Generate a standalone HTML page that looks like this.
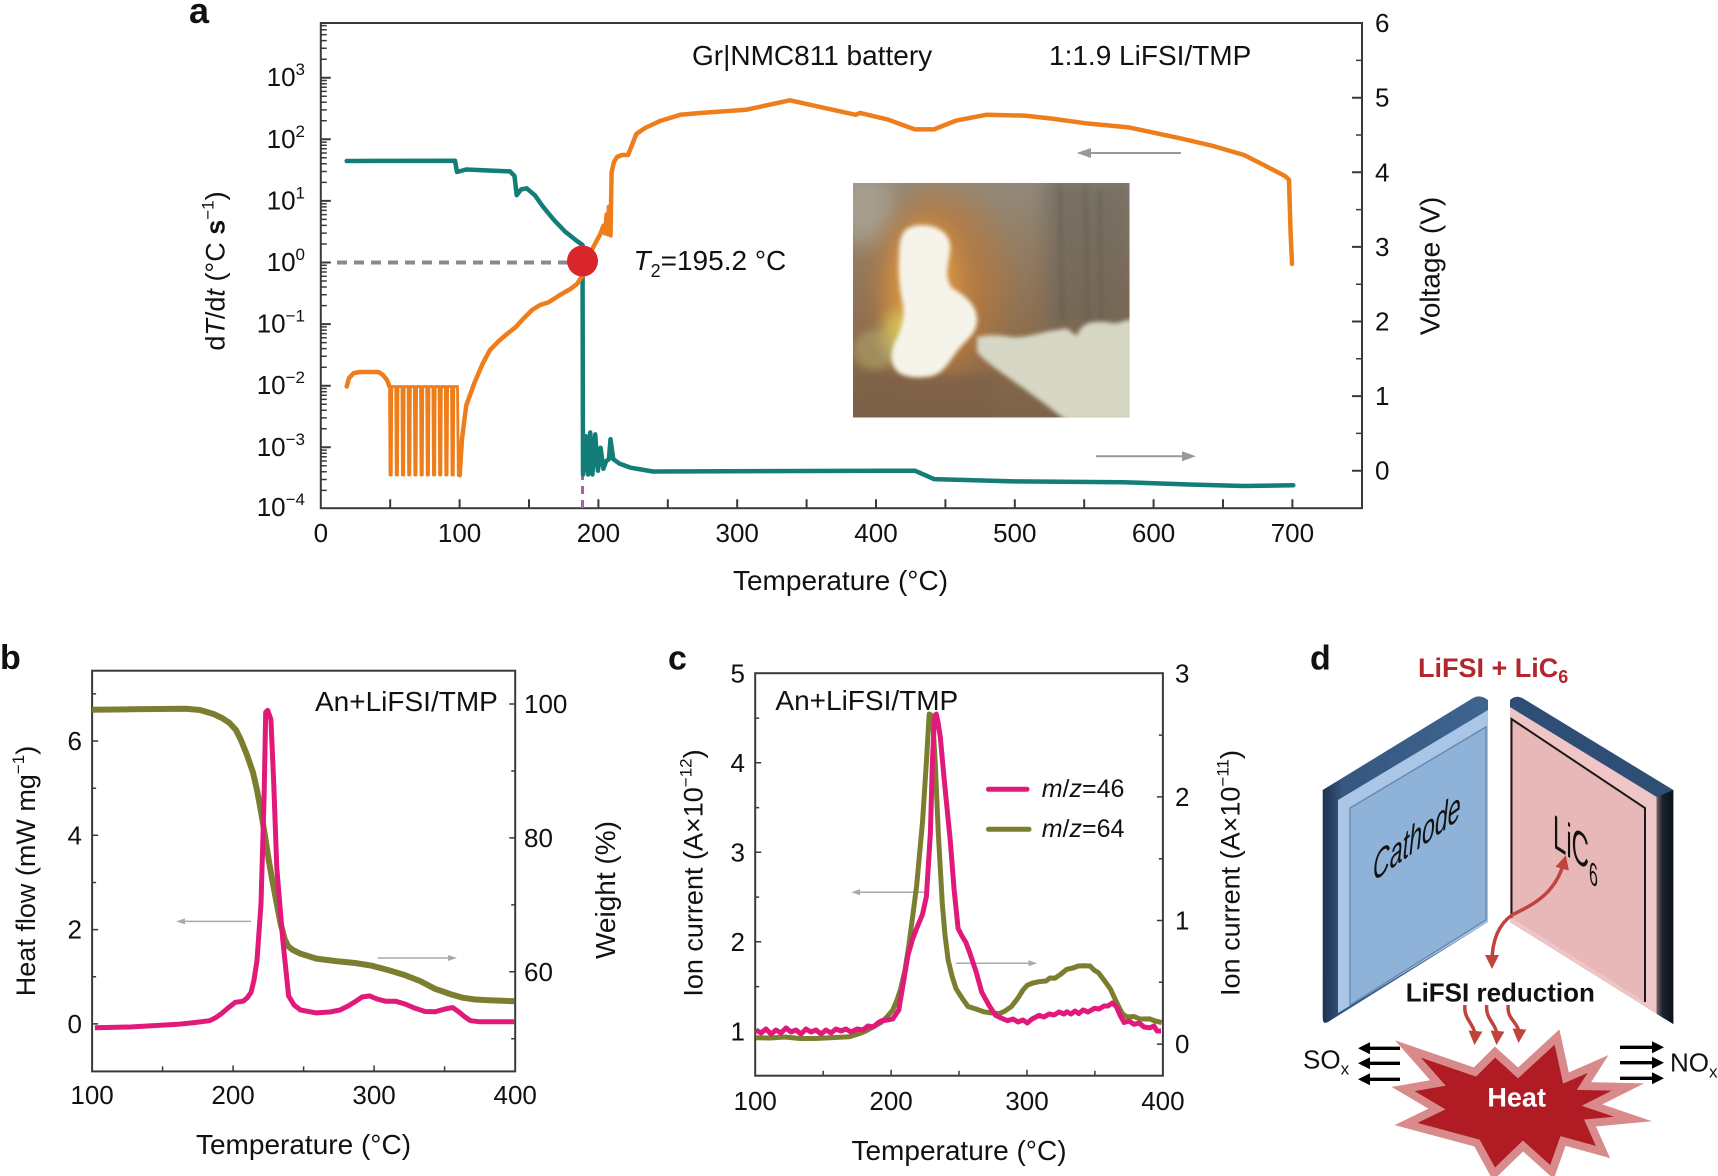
<!DOCTYPE html>
<html><head><meta charset="utf-8">
<style>
html,body{margin:0;padding:0;background:#fff}
svg{display:block}
text{font-family:"Liberation Sans",Arial,sans-serif;fill:#111}
</style></head>
<body>
<svg width="1718" height="1176" viewBox="0 0 1718 1176" xmlns="http://www.w3.org/2000/svg">
<defs>
<filter id="b2" x="-50%" y="-50%" width="200%" height="200%"><feGaussianBlur stdDeviation="2"/></filter>
<filter id="b4" x="-50%" y="-50%" width="200%" height="200%"><feGaussianBlur stdDeviation="4"/></filter>
<filter id="b7" x="-50%" y="-50%" width="200%" height="200%"><feGaussianBlur stdDeviation="7"/></filter>
<filter id="b10" x="-50%" y="-50%" width="200%" height="200%"><feGaussianBlur stdDeviation="10"/></filter>
<filter id="b16" x="-50%" y="-50%" width="200%" height="200%"><feGaussianBlur stdDeviation="16"/></filter>
<linearGradient id="phbg" x1="0" y1="0" x2="0" y2="1">
<stop offset="0" stop-color="#938a7b"/><stop offset="0.35" stop-color="#927a60"/><stop offset="0.7" stop-color="#8b6b4b"/><stop offset="1" stop-color="#7c6249"/>
</linearGradient>
<linearGradient id="navyL" x1="0" y1="0" x2="1" y2="0">
<stop offset="0" stop-color="#1d3250"/><stop offset="0.12" stop-color="#36577f"/><stop offset="1" stop-color="#3e6591"/>
</linearGradient>
<linearGradient id="darkR" x1="0" y1="0" x2="1" y2="0">
<stop offset="0" stop-color="#7a6064"/><stop offset="0.35" stop-color="#1a2230"/><stop offset="1" stop-color="#0a111b"/>
</linearGradient>
<clipPath id="ph"><rect x="853" y="183" width="276.5" height="234.5"/></clipPath>
<marker id="mr" viewBox="0 0 10 10" refX="5" refY="5" markerWidth="4" markerHeight="4" orient="auto-start-reverse"><path d="M0,0 L10,5 L0,10 Z" fill="#c0443c"/></marker>
</defs>

<!-- ================= PANEL A ================= -->
<text x="189" y="23" font-size="36" font-weight="bold">a</text>

<!-- inset photo -->
<g clip-path="url(#ph)">
<rect x="853" y="183" width="276.5" height="234.5" fill="url(#phbg)"/>
<rect x="1045" y="175" width="95" height="160" fill="#676259" opacity="0.6" filter="url(#b10)"/>
<path d="M1060,185 L1062,320 M1085,185 L1088,320 M1100,190 L1101,320" stroke="#5a564f" stroke-width="3" opacity="0.5" filter="url(#b2)"/>
<ellipse cx="865" cy="210" rx="30" ry="35" fill="#aba597" opacity="0.8" filter="url(#b10)"/>
<ellipse cx="940" cy="285" rx="62" ry="95" fill="#b97a3c" opacity="0.75" filter="url(#b16)"/>
<ellipse cx="925" cy="290" rx="38" ry="70" fill="#e09a40" opacity="0.75" filter="url(#b10)"/>
<ellipse cx="900" cy="335" rx="18" ry="25" fill="#d8d060" opacity="0.7" filter="url(#b7)"/>
<ellipse cx="875" cy="350" rx="22" ry="20" fill="#b7ad70" opacity="0.5" filter="url(#b4)"/>
<rect x="853" y="375" width="140" height="45" fill="#7d6146" opacity="0.7" filter="url(#b4)"/>
<path d="M902,236 C905,226 918,224 930,226 C944,229 952,238 950,252 C948,266 944,276 952,288 C966,296 978,306 977,322 C976,334 966,340 958,350 C950,360 945,372 932,376 C916,379 902,377 896,370 C889,360 891,350 896,340 C901,330 905,318 903,305 C900,292 898,275 899,258 C899,248 900,240 902,236 Z" fill="#f6f4ea" filter="url(#b2)"/>
<path d="M977,337 C990,334 1000,335 1012,337 C1025,338 1040,333 1050,331 C1058,330 1064,328 1068,329 C1072,332 1075,337 1078,334 C1080,326 1088,322 1097,322 C1106,321 1112,324 1118,323 C1124,321 1128,320 1132,319 L1132,420 L1066,420 C1055,412 1040,400 1023,388 C1005,375 985,362 977,352 Z" fill="#d6d7c4" filter="url(#b2)"/>
</g>

<!-- axes frame -->
<rect x="320.8" y="23" width="1041.2" height="485.2" fill="none" stroke="#3a3a3a" stroke-width="2"/>
<path d="M390.2,508.2v-9M459.6,508.2v-9M529,508.2v-9M598.4,508.2v-9M667.8,508.2v-9M737.2,508.2v-9M806.6,508.2v-9M876,508.2v-9M945.4,508.2v-9M1014.8,508.2v-9M1084.2,508.2v-9M1153.6,508.2v-9M1223,508.2v-9M1292.4,508.2v-9" stroke="#3a3a3a" stroke-width="2"/>
<path d="M320.8,447.3h10M320.8,385.7h10M320.8,324.1h10M320.8,262.5h10M320.8,200.9h10M320.8,139.3h10M320.8,77.7h10" stroke="#3a3a3a" stroke-width="2"/>
<path d="M320.8,490.4h6M320.8,479.5h6M320.8,471.8h6M320.8,465.8h6M320.8,461h6M320.8,456.8h6M320.8,453.3h6M320.8,450.1h6
M320.8,428.8h6M320.8,417.9h6M320.8,410.2h6M320.8,404.2h6M320.8,399.4h6M320.8,395.2h6M320.8,391.7h6M320.8,388.5h6
M320.8,367.2h6M320.8,356.3h6M320.8,348.6h6M320.8,342.6h6M320.8,337.8h6M320.8,333.6h6M320.8,330.1h6M320.8,326.9h6
M320.8,305.6h6M320.8,294.7h6M320.8,287h6M320.8,281h6M320.8,276.2h6M320.8,272h6M320.8,268.5h6M320.8,265.3h6
M320.8,244h6M320.8,233.1h6M320.8,225.4h6M320.8,219.4h6M320.8,214.6h6M320.8,210.4h6M320.8,206.9h6M320.8,203.7h6
M320.8,182.4h6M320.8,171.5h6M320.8,163.8h6M320.8,157.8h6M320.8,153h6M320.8,148.8h6M320.8,145.3h6M320.8,142.1h6
M320.8,120.8h6M320.8,109.9h6M320.8,102.2h6M320.8,96.2h6M320.8,91.4h6M320.8,87.2h6M320.8,83.7h6M320.8,80.5h6
M320.8,59.2h6M320.8,48.3h6M320.8,40.6h6M320.8,34.6h6M320.8,29.8h6M320.8,25.6h6" stroke="#3a3a3a" stroke-width="1.5"/>
<path d="M1362,470.7h-10M1362,396.1h-10M1362,321.5h-10M1362,246.9h-10M1362,172.3h-10M1362,97.7h-10" stroke="#3a3a3a" stroke-width="2"/>
<path d="M1362,433.4h-6M1362,358.8h-6M1362,284.2h-6M1362,209.6h-6M1362,135h-6M1362,60.4h-6" stroke="#3a3a3a" stroke-width="1.5"/>

<g font-size="26" text-anchor="middle">
<text x="320.8" y="542">0</text><text x="459.6" y="542">100</text><text x="598.4" y="542">200</text><text x="737.2" y="542">300</text><text x="876" y="542">400</text><text x="1014.8" y="542">500</text><text x="1153.6" y="542">600</text><text x="1292.4" y="542">700</text>
</g>
<g font-size="26" text-anchor="end">
<text x="305" y="86.2">10<tspan dy="-11" font-size="17">3</tspan></text>
<text x="305" y="147.8">10<tspan dy="-11" font-size="17">2</tspan></text>
<text x="305" y="209.4">10<tspan dy="-11" font-size="17">1</tspan></text>
<text x="305" y="271">10<tspan dy="-11" font-size="17">0</tspan></text>
<text x="305" y="332.6">10<tspan dy="-11" font-size="17">−1</tspan></text>
<text x="305" y="394.2">10<tspan dy="-11" font-size="17">−2</tspan></text>
<text x="305" y="455.8">10<tspan dy="-11" font-size="17">−3</tspan></text>
<text x="305" y="516">10<tspan dy="-11" font-size="17">−4</tspan></text>
</g>
<g font-size="26">
<text x="1375" y="32">6</text><text x="1375" y="106.7">5</text><text x="1375" y="181.3">4</text><text x="1375" y="255.9">3</text><text x="1375" y="330.5">2</text><text x="1375" y="405.1">1</text><text x="1375" y="479.7">0</text>
</g>
<text x="840.5" y="590" font-size="28" text-anchor="middle">Temperature (°C)</text>
<text transform="translate(224.5,271) rotate(-90)" font-size="27" text-anchor="middle">d<tspan font-style="italic">T</tspan>/d<tspan font-style="italic">t</tspan> (°C <tspan font-weight="bold">s</tspan><tspan dy="-11" font-size="17">−1</tspan><tspan dy="11">)</tspan></text>
<text transform="translate(1439.5,266) rotate(-90)" font-size="28" text-anchor="middle">Voltage (V)</text>
<text x="692" y="65" font-size="28">Gr|NMC811 battery</text>
<text x="1049" y="65" font-size="28">1:1.9 LiFSI/TMP</text>
<text x="633.5" y="270" font-size="28"><tspan font-style="italic">T</tspan><tspan dy="7" font-size="18">2</tspan><tspan dy="-7">=195.2 °C</tspan></text>

<line x1="1180.9" y1="153" x2="1088" y2="153" stroke="#999" stroke-width="2"/>
<polygon points="1076.7,153 1091,148 1091,158" fill="#999"/>
<line x1="1095.9" y1="456.2" x2="1184" y2="456.2" stroke="#999" stroke-width="2"/>
<polygon points="1196,456.2 1182,451.2 1182,461.2" fill="#999"/>

<line x1="337" y1="262.5" x2="568" y2="262.5" stroke="#8a8a8a" stroke-width="4" stroke-dasharray="10,7"/>
<line x1="582.5" y1="276" x2="582.5" y2="508" stroke="#b558b0" stroke-width="3" stroke-dasharray="8,6"/>

<path d="M346.7,161 L455,160.7 L457,172 L466.2,169.5 L510.1,171.4 L514.5,176 L516.7,195.2 L521.1,189.4 L526.6,188.3 L534.8,195.2 L543,206.7 L554,220 L565,231.5 L576,240.3 L582.5,245 L583,474.5 L585.8,436.3 L588,474.5 L590.2,432.5 L592.4,474.5 L595.2,434.4 L597.9,470.7 L600.6,447.8 L603.4,468.8 L606.1,461.2 L608.9,459.2 L610.5,439.3 L613.3,459.2 L619.8,463.8 L630.8,467.7 L652.8,471.5 L914.9,470.7 L934,479.1 L1013.6,481.4 L1123.3,482.2 L1189,484.5 L1244,486 L1293.3,485.3" fill="none" stroke="#137d77" stroke-width="4.5" stroke-linejoin="round" stroke-linecap="round"/>

<path d="M389.5,386.5 L390,475 L391.3,475 L391.8,386.5 L395.7,386.5 L396.2,475 L397.5,475 L398,386.5 L401.9,386.5 L402.4,475 L403.7,475 L404.2,386.5 L408.1,386.5 L408.6,475 L409.9,475 L410.4,386.5 L414.3,386.5 L414.8,475 L416.1,475 L416.6,386.5 L420.5,386.5 L421,475 L422.3,475 L422.8,386.5 L426.7,386.5 L427.2,475 L428.5,475 L429,386.5 L432.9,386.5 L433.4,475 L434.7,475 L435.2,386.5 L439.1,386.5 L439.6,475 L440.9,475 L441.4,386.5 L445.3,386.5 L445.8,475 L447.1,475 L447.6,386.5 L451.5,386.5 L452,475 L453.3,475 L453.8,386.5 L457.5,386.5 L458.3,475.3 L459.7,475.3" fill="none" stroke="#ee7d1c" stroke-width="2.8" stroke-linejoin="round"/>
<path d="M346.7,386.5 L349,378 L353.8,373.1 L360,372 L378.5,372 L383,375 L387,380 L389.5,386.5 M459.7,475.3 L461.9,440 L466.2,405.7 L474.5,382.7 L482.7,363.6 L490,350 L499.2,340.6 L507,334 L515.6,327.2 L524,318 L532.1,310 L540,305 L548.5,302.3 L560,295 L570.5,288.9 L577,284 L582.5,275.5 L587,263 L592.4,248.8 L600.6,233.4 L603.4,225.8 L605,233.4 L606.7,214.3 L607.8,234.2 L608.9,206.7 L610.5,235.4 L611.6,172.2 L614,162 L617.1,156.9 L622,155 L628,155 L632,145 L636.3,134 L645,128 L660,121 L680.2,114.8 L700,113 L746,109.8 L789.9,100.3 L855.7,114.8 L860,112.9 L887.4,119.4 L914.8,129.4 L934,129.4 L956,120.6 L986.2,114.8 L1024.6,115.6 L1052,118.6 L1085,123.2 L1128.8,127.4 L1178,137.8 L1211,145.4 L1244,155 L1263,164.6 L1285,176 L1289,179.9 L1290.5,230 L1292,264" fill="none" stroke="#ee7d1c" stroke-width="4.5" stroke-linejoin="round" stroke-linecap="round"/>

<circle cx="582.5" cy="261" r="15.5" fill="#d9262a"/>

<!-- ================= PANEL B ================= -->
<text x="0" y="669" font-size="34" font-weight="bold">b</text>
<rect x="92.1" y="670.7" width="423.1" height="400.7" fill="none" stroke="#3a3a3a" stroke-width="2"/>
<path d="M162.6,1071.4v-5M233.1,1071.4v-6M303.6,1071.4v-5M374.1,1071.4v-6M444.6,1071.4v-5
M92.1,693.9h4M92.1,741h6M92.1,788.2h4M92.1,835.3h6M92.1,882.5h4M92.1,929.6h6M92.1,976.8h4M92.1,1023.9h6
M515.2,704h-6M515.2,771h-4M515.2,837.9h-6M515.2,904.9h-4M515.2,971.8h-6M515.2,1038.8h-4" stroke="#3a3a3a" stroke-width="1.5"/>
<g font-size="26" text-anchor="middle">
<text x="92.1" y="1104">100</text><text x="233.1" y="1104">200</text><text x="374.1" y="1104">300</text><text x="515.2" y="1104">400</text>
</g>
<g font-size="26" text-anchor="end">
<text x="82" y="750">6</text><text x="82" y="844.3">4</text><text x="82" y="938.6">2</text><text x="82" y="1032.9">0</text>
</g>
<g font-size="26">
<text x="524" y="713">100</text><text x="524" y="846.9">80</text><text x="524" y="980.8">60</text>
</g>
<text x="303.5" y="1154" font-size="28" text-anchor="middle">Temperature (°C)</text>
<text transform="translate(35,871) rotate(-90)" font-size="27" text-anchor="middle">Heat flow (mW mg<tspan dy="-11" font-size="17">−1</tspan><tspan dy="11">)</tspan></text>
<text transform="translate(615,890) rotate(-90)" font-size="28" text-anchor="middle">Weight (%)</text>
<text x="315" y="711" font-size="28">An+LiFSI/TMP</text>
<line x1="251" y1="921.4" x2="183" y2="921.4" stroke="#aaa" stroke-width="1.5"/>
<polygon points="176,921.4 185,918.4 185,924.4" fill="#aaa"/>
<line x1="377.6" y1="958" x2="450" y2="958" stroke="#aaa" stroke-width="1.5"/>
<polygon points="457,958 448,955 448,961" fill="#aaa"/>

<path d="M92.1,709.7 L130,709.3 L185.8,708.7 L200,710 L213.5,714 L222,718 L229.3,722.8 L236,730 L241.2,740.6 L247,755 L253,772.5 L257,790 L261,811.5 L265,836 L268.9,861.1 L273,884 L276.8,903.7 L280.5,923 L284.7,939.1 L288,946 L292.6,949.8 L300,953.5 L316.3,958.6 L336.1,961.1 L355,963 L371.7,965.7 L388,970 L403.3,974.6 L420,981 L435,988.8 L450,994 L462.6,997.7 L475,999.5 L486.4,1000.1 L514.2,1001.2" fill="none" stroke="#7b7e2f" stroke-width="6" stroke-linejoin="round"/>
<path d="M94.9,1027.8 L130,1027 L178,1024.3 L195,1022.5 L209.6,1020.7 L216,1017.5 L221.4,1013.6 L228,1008 L235.3,1002.3 L243.2,1001.2 L247,998 L251.1,992.3 L254,980 L257,960.4 L261,903.7 L264.1,797.3 L265.7,712.2 L267.7,710.4 L270.9,719.3 L273.6,779.6 L276.8,868.2 L282.7,939.1 L288.6,995.9 L294,1005 L300.5,1010 L316.3,1012.9 L330,1012 L340,1010 L348,1006 L355.9,1001.2 L362,997 L369.7,995.9 L377,999 L385.5,1001.2 L395.4,1001.2 L405,1004 L415.2,1008.3 L425,1011.5 L435,1011.8 L445,1009 L452.7,1007.6 L458.7,1011.8 L465,1017 L470.5,1020.7 L480,1021.8 L514.2,1021.8" fill="none" stroke="#e0197a" stroke-width="5" stroke-linejoin="round"/>

<!-- ================= PANEL C ================= -->
<text x="668" y="669.6" font-size="34" font-weight="bold">c</text>
<rect x="755.2" y="673.2" width="407.7" height="402.5" fill="none" stroke="#3a3a3a" stroke-width="2"/>
<path d="M823.2,1075.7v-5M891.1,1075.7v-6M959,1075.7v-5M1027,1075.7v-6M1094.9,1075.7v-5
M755.2,1031.3h6M755.2,986.6h4M755.2,941.8h6M755.2,897.1h4M755.2,852.3h6M755.2,807.6h4M755.2,762.8h6M755.2,718.1h4
M1162.9,1044.1h-6M1162.9,982.3h-4M1162.9,920.5h-6M1162.9,858.7h-4M1162.9,796.9h-6M1162.9,735.1h-4" stroke="#3a3a3a" stroke-width="1.5"/>
<g font-size="26" text-anchor="middle">
<text x="755.2" y="1110">100</text><text x="891.1" y="1110">200</text><text x="1027" y="1110">300</text><text x="1162.9" y="1110">400</text>
</g>
<g font-size="26" text-anchor="end">
<text x="745" y="1040.3">1</text><text x="745" y="950.8">2</text><text x="745" y="861.3">3</text><text x="745" y="771.8">4</text><text x="745" y="682.3">5</text>
</g>
<g font-size="26">
<text x="1175" y="1053.1">0</text><text x="1175" y="929.5">1</text><text x="1175" y="805.9">2</text><text x="1175" y="682.3">3</text>
</g>
<text x="959" y="1160" font-size="28" text-anchor="middle">Temperature (°C)</text>
<text transform="translate(702.5,873) rotate(-90)" font-size="27" text-anchor="middle">Ion current (A×10<tspan dy="-11" font-size="17">−12</tspan><tspan dy="11">)</tspan></text>
<text transform="translate(1239.5,873) rotate(-90)" font-size="27" text-anchor="middle">Ion current (A×10<tspan dy="-11" font-size="17">−11</tspan><tspan dy="11">)</tspan></text>
<text x="775.4" y="710" font-size="28">An+LiFSI/TMP</text>
<line x1="988.5" y1="789.3" x2="1027" y2="789.3" stroke="#e0197a" stroke-width="5" stroke-linecap="round"/>
<line x1="988.5" y1="829.3" x2="1029" y2="829.3" stroke="#7b7e2f" stroke-width="5" stroke-linecap="round"/>
<text x="1041.7" y="797" font-size="25"><tspan font-style="italic">m</tspan>/<tspan font-style="italic">z</tspan>=46</text>
<text x="1041.7" y="837" font-size="25"><tspan font-style="italic">m</tspan>/<tspan font-style="italic">z</tspan>=64</text>
<line x1="924.5" y1="892.3" x2="858" y2="892.3" stroke="#aaa" stroke-width="1.5"/>
<polygon points="851.3,892.3 860,889.3 860,895.3" fill="#aaa"/>
<line x1="956" y1="963.3" x2="1030" y2="963.3" stroke="#aaa" stroke-width="1.5"/>
<polygon points="1037.2,963.3 1028.5,960.3 1028.5,966.3" fill="#aaa"/>

<path d="M756,1037.7 L770,1038 L785,1037 L800,1038.5 L817.7,1038.4 L835,1037.5 L849.3,1036.7 L858,1034 L865.2,1031.3 L873,1027 L881,1022.5 L887,1017 L892.8,1010 L897,1000 L900.7,988.8 L905,970 L908.7,946.2 L912.6,917 L916.6,886 L919.5,855 L922.5,822.1 L926.4,761.8 L929.2,714 L932.4,715.7 L935.2,761.8 L938.3,832.8 L942.3,903.7 L945,935 L948.2,960.4 L952,976 L956.1,988.8 L962,998 L968,1006.5 L976,1009 L983.8,1011.8 L992,1013 L999.6,1013.6 L1005,1011 L1011.5,1006.5 L1018,998 L1023,990 L1027.3,985.2 L1033,983 L1039.1,981.7 L1046,981 L1050,978 L1055,978.2 L1061,974 L1066.8,969.3 L1073,968 L1078,966 L1084.6,965.7 L1090,966 L1094,970 L1098.5,972.8 L1104,980 L1110.3,988.8 L1116,1001 L1122.2,1013.6 L1127,1017 L1134,1016.5 L1140,1019 L1149.8,1018.9 L1155,1021 L1161.7,1022.5" fill="none" stroke="#7b7e2f" stroke-width="5" stroke-linejoin="round"/>
<path d="M756,1030 L761,1033 L766,1029 L771,1034 L776,1030 L781,1033 L786,1028 L791,1032 L796,1030 L801,1034 L806,1029 L811,1032 L816,1030 L821,1034 L826,1030 L831,1033 L836,1029 L841,1031 L846,1029 L851,1032 L857,1029 L863,1030 L868,1026 L873,1027 L878,1023 L881,1021 L887,1020 L892.8,1018.9 L898.8,1010 L904.7,974.6 L908,955 L912.6,939.1 L916.6,928.5 L922.5,914.3 L926.4,896.6 L930.4,832.8 L932.4,761.8 L934.4,719.3 L936.3,714 L938,722 L940.3,737 L944.2,779.6 L950.2,839.9 L954.1,889.5 L958.1,928.5 L962,936 L966,942.7 L969.9,953.3 L975.9,971.1 L981.8,992.3 L989.7,1006.5 L995.6,1015.4 L1001,1018 L1007.5,1020.7 L1013,1019 L1018,1022 L1023,1020 L1027.3,1023 L1032,1019 L1036,1017 L1039.1,1015.4 L1044,1017 L1049,1014 L1054,1015 L1059,1012 L1064,1014 L1066.8,1011.8 L1071,1014 L1075,1011 L1078.7,1013.6 L1083,1010 L1088,1012 L1094.5,1008.3 L1099,1009 L1104,1006 L1108,1006 L1112.3,1003 L1116.3,1006.5 L1120,1015 L1124.1,1022.5 L1129,1021 L1134,1024.3 L1139,1023 L1144,1027 L1149.8,1027.8 L1154,1026 L1157,1031 L1161,1031" fill="none" stroke="#e0197a" stroke-width="5" stroke-linejoin="round"/>

<!-- ================= PANEL D ================= -->
<text x="1310" y="669.6" font-size="34" font-weight="bold">d</text>
<text x="1418" y="677" font-size="27" font-weight="bold" style="fill:#b3262c">LiFSI + LiC<tspan dy="6" font-size="18" style="fill:#b3262c">6</tspan></text>

<path d="M1322.7,790 L1473,698 Q1480,694 1488,700 L1488,922 L1328,1022 Q1322.7,1025 1322.7,1018 Z" fill="url(#navyL)"/>
<path d="M1338,800 L1488,710 L1488,922 L1338,1013 Z" fill="#a9c6e6"/>
<path d="M1350,808 L1486,727 L1486,920 L1350,1005 Z" fill="#8fb2d9" stroke="#6a8ab2" stroke-width="1.5"/>
<text transform="translate(1373,882) skewY(-36) scale(0.58,1)" font-size="40" font-style="italic">Cathode</text>

<path d="M1510,700 Q1516,694 1524,699 L1673.3,790 L1673.3,1024 L1510,922 Z" fill="#2e4e76"/>
<path d="M1510,707 L1656.7,797 L1656.7,1014 L1510,922 Z" fill="#f0c5c5"/>
<path d="M1656.7,797 L1673.3,790 L1673.3,1024 L1656.7,1014 Z" fill="url(#darkR)"/>
<path d="M1512,719 L1645,808 L1645,1002 L1512,918 Z" fill="#e8b8b8"/>
<path d="M1511.5,918 L1511.5,719 L1645,808 L1645,1002" fill="none" stroke="#1a1a1a" stroke-width="2"/>
<text transform="translate(1553,847) skewY(33) scale(0.5,1)" font-size="48">LiC<tspan dy="12" font-size="32">6</tspan></text>

<path d="M1564,862 C1555,895 1532,905 1512,915 C1498,925 1492,942 1492,962" fill="none" stroke="#c0443c" stroke-width="3.5" marker-start="url(#mr)" marker-end="url(#mr)"/>

<text x="1405.7" y="1001.5" font-size="26" font-weight="bold">LiFSI reduction</text>

<!-- star -->
<path d="M1408,1049 L1475,1072 L1495,1052 L1518,1073 L1557,1037 L1566,1078 L1598,1064 L1584,1086 L1628,1087 L1592,1105 L1633,1119 L1590,1123 L1603,1152 L1563,1141 L1552,1172 L1523,1146 L1494,1174 L1477,1143 L1406,1124 L1437,1109 L1403,1089 L1438,1083 Z" fill="#b01b24" stroke="#d98a8a" stroke-width="8" stroke-linejoin="miter" stroke-miterlimit="10"/>
<text x="1516.7" y="1106.5" font-size="27" font-weight="bold" text-anchor="middle" style="fill:#fff">Heat</text>

<!-- wavy arrows -->
<path d="M1465,1005 C1463,1020 1476,1024 1475,1038" fill="none" stroke="#c0443c" stroke-width="3.5" marker-end="url(#mr)"/>
<path d="M1486.7,1005 C1485,1020 1498,1024 1497,1038" fill="none" stroke="#c0443c" stroke-width="3.5" marker-end="url(#mr)"/>
<path d="M1508.3,1005 C1506,1020 1520,1022 1519,1036" fill="none" stroke="#c0443c" stroke-width="3.5" marker-end="url(#mr)"/>

<!-- SOx / NOx arrows -->
<g stroke="#000" stroke-width="3.3">
<line x1="1400" y1="1048.3" x2="1368" y2="1048.3"/>
<line x1="1400" y1="1063.3" x2="1368" y2="1063.3"/>
<line x1="1400" y1="1079.3" x2="1368" y2="1079.3"/>
<line x1="1620" y1="1047.3" x2="1652" y2="1047.3"/>
<line x1="1620" y1="1062.7" x2="1652" y2="1062.7"/>
<line x1="1620" y1="1078.3" x2="1652" y2="1078.3"/>
</g>
<g fill="#000">
<polygon points="1358,1048.3 1370,1042.3 1370,1054.3"/>
<polygon points="1358,1063.3 1370,1057.3 1370,1069.3"/>
<polygon points="1358,1079.3 1370,1073.3 1370,1085.3"/>
<polygon points="1664,1047.3 1652,1041.3 1652,1053.3"/>
<polygon points="1664,1062.7 1652,1056.7 1652,1068.7"/>
<polygon points="1664,1078.3 1652,1072.3 1652,1084.3"/>
</g>
<text x="1303" y="1068.5" font-size="26">SO<tspan dy="6" font-size="17">x</tspan></text>
<text x="1670" y="1071.5" font-size="26">NO<tspan dy="6" font-size="17">x</tspan></text>
</svg>
</body></html>
